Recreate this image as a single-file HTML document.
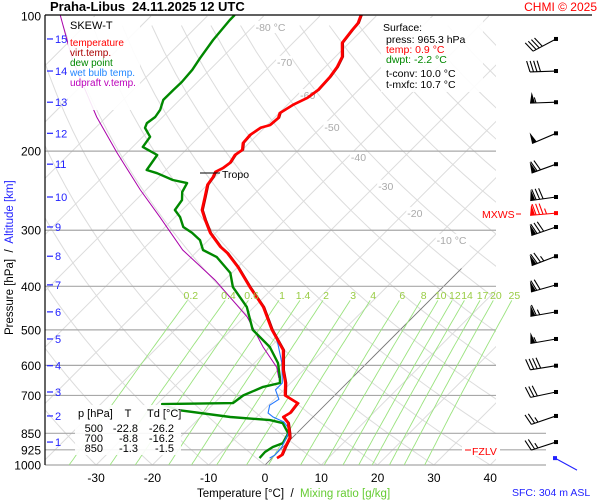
<!DOCTYPE html>
<html><head><meta charset="utf-8">
<style>
html,body{margin:0;padding:0;background:#fff;}
svg{display:block;font-family:"Liberation Sans",sans-serif;}
</style></head>
<body>
<svg id="chart" width="600" height="500" viewBox="0 0 600 500" xmlns="http://www.w3.org/2000/svg">
<defs><clipPath id="plotclip"><rect x="45" y="15" width="451" height="450"/></clipPath>
<clipPath id="plotclip2"><rect x="45" y="15" width="501" height="450"/></clipPath></defs>
<rect x="0" y="0" width="600" height="500" fill="#fff"/>
<g id="grid" clip-path="url(#plotclip)"></g>
<g id="isobars"></g>
<g id="mixlines" clip-path="url(#plotclip2)"></g>
<g id="series" clip-path="url(#plotclip2)"></g>
<g id="winds"></g>
<g id="axes"></g>
<text x="50" y="11" font-size="13" font-weight="bold" fill="#000">Praha-Libus</text>
<text x="132" y="11" font-size="13" font-weight="bold" fill="#000">24.11.2025 12 UTC</text>
<text x="597" y="11" font-size="12" fill="#f00" text-anchor="end">CHMI © 2025</text>
<line x1="45" y1="15" x2="592" y2="15" stroke="#000" stroke-width="1.2"/>
<g>
<rect x="68" y="17" width="72" height="93" fill="#fff" opacity="0.9"/>
<text x="70" y="29" font-size="11" fill="#000">SKEW-T</text>
<text x="70" y="46" font-size="10" fill="#f00">temperature</text>
<text x="70" y="56" font-size="10" fill="#a00">virt.temp.</text>
<text x="70" y="66" font-size="10" fill="#080">dew point</text>
<text x="70" y="76" font-size="10" fill="#28f">wet bulb temp.</text>
<text x="70" y="86" font-size="10" fill="#b0b">udpraft v.temp.</text>
</g>
<g>
<rect x="381" y="18" width="102" height="74" fill="#fff" opacity="0.9"/>
<text x="383" y="31" font-size="10.5" fill="#000">Surface:</text>
<text x="386" y="43" font-size="10.5" fill="#000">press: 965.3 hPa</text>
<text x="386" y="53" font-size="10.5" fill="#f00">temp: 0.9 °C</text>
<text x="386" y="63" font-size="10.5" fill="#080">dwpt: -2.2 °C</text>
<text x="386" y="77" font-size="10.5" fill="#000">t-conv: 10.0 °C</text>
<text x="386" y="88" font-size="10.5" fill="#000">t-mxfc: 10.7 °C</text>
</g>
<g font-size="11" fill="#000">
<rect x="75" y="405" width="106" height="50" fill="#fff" opacity="0.9"/>
<text x="78" y="417">p [hPa]</text><text x="128" y="417" text-anchor="middle">T</text><text x="147" y="417">Td [°C]</text>
<text x="103" y="432" text-anchor="end">500</text><text x="138" y="432" text-anchor="end">-22.8</text><text x="174" y="432" text-anchor="end">-26.2</text>
<text x="103" y="442" text-anchor="end">700</text><text x="138" y="442" text-anchor="end">-8.8</text><text x="174" y="442" text-anchor="end">-16.2</text>
<text x="103" y="452" text-anchor="end">850</text><text x="138" y="452" text-anchor="end">-1.3</text><text x="174" y="452" text-anchor="end">-1.5</text>
</g>
<g>
<line x1="200" y1="173" x2="220" y2="173" stroke="#000" stroke-width="1"/>
<text x="222" y="178" font-size="10.5" fill="#000">Tropo</text>
</g>
<g>
<rect x="462" y="444" width="38" height="12" fill="#fff"/>
<line x1="465" y1="450" x2="471" y2="450" stroke="#f00"/>
<text x="472" y="455" font-size="10.5" fill="#f00">FZLV</text>
</g>
<g>
<text x="482" y="218" font-size="10.5" fill="#f00">MXWS</text>
<line x1="516" y1="214" x2="521" y2="214" stroke="#f00"/>
</g>
<text x="197" y="497" font-size="11.5" fill="#000" xml:space="preserve">Temperature [°C]  /  <tspan fill="#6c3">Mixing ratio [g/kg]</tspan></text>
<text x="512" y="496" font-size="10.5" fill="#22f">SFC: 304 m ASL</text>
<text transform="translate(13,335) rotate(-90)" font-size="11.5" fill="#000" xml:space="preserve">Pressure [hPa]  /  <tspan fill="#22f">Altitude [km]</tspan></text>
</svg>
<script>
// ---- data ----
const tempP = [99.5,103.7,107.5,114.8,123.3,130,136.8,146.2,152.2,157.7,164.5,168.7,175,177.4,184,191.9,198.8,204,212.3,218.2,222.4,228.4,237.6,253,270.4,284.4,304,326.6,337,362.2,401.5,444.6,500,554.6,614,656,700,728,765.8,781.6,805.5,850,870.9,912,950,965.3];
const tempT = [-62.9,-62.0,-61.8,-61.3,-58.8,-57.9,-57.4,-57.2,-57.7,-59.0,-59.9,-59.3,-59.5,-60.7,-61.3,-61.1,-60.0,-60.4,-59.9,-60.2,-60.9,-60.4,-60.0,-58.3,-56.5,-54.2,-51.0,-46.7,-44.4,-40.0,-34.3,-28.4,-22.8,-17.2,-13.7,-11.0,-8.8,-5.2,-4.8,-5.3,-3.4,-1.3,-0.4,0.4,1.2,0.9];
const dewP = [99.5,102.1,113.1,124.1,131.8,140.3,146.2,153.8,161.8,167.9,173.2,177.5,185.8,195.7,204,220.3,223.9,231.9,235.6,246.6,257,270.4,280.5,295,304,315.5,332,344.3,373.3,401.5,444.6,500,546,592.9,636.8,656.6,670,700,728,731.6,754.5,781.6,794.3,806.5,850,893.6,912,935.6,965.3];
const dewT = [-85.3,-85.3,-84.7,-83.8,-83.1,-82.8,-82.9,-82.9,-81.7,-81.3,-81.7,-81.2,-78.7,-78.2,-74.2,-73.4,-71.0,-67.0,-63.9,-63.2,-61.8,-61.3,-59.1,-56.8,-54.2,-51.5,-49.2,-45.5,-40.3,-37.3,-31.3,-26.2,-20.1,-15.8,-13.0,-11.9,-14.2,-16.2,-16.7,-29.1,-25.2,-14.7,-7.1,-4.3,-1.5,-0.7,-1.8,-2.3,-2.2];
const wetP = [394,435,476,535,592.9,656.6,680,714,735.8,765.8,781.6,801.6,835.5,912,950,965.3];
const wetT = [-35.3,-29.7,-24.9,-19.4,-15.1,-11.5,-11.5,-9.2,-9.8,-8.7,-7.1,-4.3,-1.8,-0.2,0.0,-0.4];
const parcelP = [99.5,125.1,167.9,201.8,244,280.5,332,387.5,467.7,546,605.6,640];
const parcelT = [-116.3,-106.2,-91.7,-81.7,-71.0,-62.7,-52.8,-41.7,-29.5,-21.3,-15.3,-13.0];
const mixRatios = [0.2,0.4,0.6,1,1.4,2,3,4,6,8,10,12,14,17,20,25];
const mixLabels = ["0.2","0.4","0.6","1","1.4","2","3","4","6","8","10","12","14","17","20","25"];
const pressureTicks = [100,200,300,400,500,600,700,850,925,1000];
const tempTicks = [-30,-20,-10,0,10,20,30,40];
const isothermLabels = [-80,-70,-60,-50,-40,-30,-20,-10];
const isothermLabelP = [105.8,126.5,150,176.8,206,239,274.8,315.5];
const kmLabels = [1,2,3,4,5,6,7,8,9,10,11,12,13,14,15];
const kmP = [889,777.6,687.7,601,524,456,397,342.8,295,253,213.8,182.5,155.6,132.6,112.5];
const windP = [112.5,132.6,155.6,182.5,213.8,253,274.8,295.1,342.8,397,456,524,601,687.7,777.6,889];
const windDir = [242,268,268,247,250,262,265,251,249,254,260,260,261,258,251,252];
const windSpd = [40,40,55,50,70,80,85,80,75,70,65,55,40,30,25,25];

// ---- axes ----
const NS='http://www.w3.org/2000/svg';
const SKEW=1.0, X0=265, XS=5.63, YB=465, YH=449;
function yOf(p){return YB - YH*Math.log10(1000/p);}
function xOf(T,p){return X0 + XS*T + SKEW*(YB - yOf(p));}
function mk(tag,attrs,parent){const e=document.createElementNS(NS,tag);for(const k in attrs)e.setAttribute(k,attrs[k]);parent.appendChild(e);return e;}
function poly(Ts,Ps){return Ts.map((t,i)=>xOf(t,Ps[i]).toFixed(1)+','+yOf(Ps[i]).toFixed(1)).join(' ');}

const grid=document.getElementById('grid');
for(let T=-160;T<=50;T+=10){
  const l=mk('line',{x1:xOf(T,1000),y1:yOf(1000),x2:xOf(T,100),y2:yOf(100),stroke:'#dcdcdc','stroke-width':1},grid);
  
  
}
for(let th=-40;th<=200;th+=10){
  const pts=[];
  for(let p=1050;p>=95;p-=15){const T=(th+273.15)*Math.pow(p/1000,0.2857)-273.15;pts.push(xOf(T,p).toFixed(1)+','+yOf(p).toFixed(1));}
  const l=mk('polyline',{points:pts.join(' '),fill:'none',stroke:'#dcdcdc','stroke-width':1},grid);
  
  
}
{const l=mk('line',{x1:xOf(0,1000),y1:yOf(1000),x2:xOf(0,365),y2:yOf(365),stroke:'#777','stroke-width':0.8},grid);

}
isothermLabels.forEach((T,i)=>{
  const bg=mk('rect',{x:xOf(T,isothermLabelP[i])+2,y:yOf(isothermLabelP[i])-6,width:(i===0||i===7)?34:16,height:12,fill:'#fff'},grid);
  
  
  const t=mk('text',{x:xOf(T,isothermLabelP[i])+3,y:yOf(isothermLabelP[i])+4,'font-size':10.5,fill:'#aaa'},grid);
  t.textContent=(i===0||i===7)?T+' °C':String(T);
  
  
});

const iso=document.getElementById('isobars');
const axes=document.getElementById('axes');
pressureTicks.forEach(p=>{
  const y=yOf(p);
  if(p!==100){
    const l=mk('line',{x1:45,y1:y,x2:(p>=850?546:496),y2:y,stroke:'#a8a8a8','stroke-width':1.2},iso);
    
    
  }
  const t=mk('text',{x:41,y:y+4.5,'font-size':12,fill:'#000','text-anchor':'end'},axes);
  t.textContent=String(p);
  
  
});
{const l=mk('line',{x1:45,y1:15,x2:45,y2:465,stroke:'#000','stroke-width':1.2},axes);

}
tempTicks.forEach(T=>{
  const t=mk('text',{x:xOf(T,1000),y:482,'font-size':12,fill:'#000','text-anchor':'middle'},axes);
  t.textContent=String(T);
  
  
});
kmLabels.forEach((k,i)=>{
  const y=yOf(kmP[i]);
  const l=mk('line',{x1:47,y1:y,x2:53,y2:y,stroke:'#22f','stroke-width':1.2},axes);
  
  
  const t=mk('text',{x:55,y:y+4,'font-size':11,fill:'#22f'},axes);
  t.textContent=String(k);
  
  
});

const mix=document.getElementById('mixlines');
function tdFromW(w,p){const e=w*p/(622+w);const a=Math.log(e/6.112);return 243.5*a/(17.67-a);}
mixRatios.forEach((w,i)=>{
  const pts=[];
  for(let p=1000;p>=430;p-=10){pts.push(xOf(tdFromW(w,p),p).toFixed(1)+','+yOf(p).toFixed(1));}
  const l=mk('polyline',{points:pts.join(' '),fill:'none',stroke:'#9be37f','stroke-width':0.9},mix);
  
  
  const t=mk('text',{x:xOf(tdFromW(w,420),420),y:yOf(420)+3,'font-size':10.5,fill:'#9c4','text-anchor':'middle'},axes);
  t.textContent=mixLabels[i];
  
  
});

const ser=document.getElementById('series');
{const l=mk('polyline',{points:poly(parcelT,parcelP),fill:'none',stroke:'#a0a','stroke-width':1},ser);

}
{const l=mk('polyline',{points:poly(dewT,dewP),fill:'none',stroke:'#080','stroke-width':2.4,'stroke-linejoin':'round'},ser);

}
{const l=mk('polyline',{points:poly(wetT,wetP),fill:'none',stroke:'#27f','stroke-width':1.1},ser);

}
{const l=mk('polyline',{points:poly(tempT,tempP),fill:'none',stroke:'#a00','stroke-width':1,'transform':'translate(1.5,0)'},ser);

}
{const l=mk('polyline',{points:poly(tempT,tempP),fill:'none',stroke:'#f00','stroke-width':2.6,'stroke-linejoin':'round'},ser);

}

const wg=document.getElementById('winds');
function barb(p,dir,spd,color){
  const g=mk('g',{},wg);
  const x0=556,y0=yOf(p),L=26,rad=dir*Math.PI/180;
  const ux=Math.sin(rad),uy=-Math.cos(rad);
  const tx=x0+ux*L,ty=y0+uy*L;
  mk('line',{x1:x0,y1:y0,x2:tx,y2:ty,stroke:color,'stroke-width':1.1},g);
  mk('rect',{x:x0-2,y:y0-2,width:4,height:4,fill:color},g);
  let px=-uy,py=ux; if(py>0){px=-px;py=-py;}
  let s=Math.round(spd/5)*5,pos=0;const step=3.5,BL=11;
  while(s>=50){
    const ax=tx-ux*pos,ay=ty-uy*pos,bx=tx-ux*(pos+5),by=ty-uy*(pos+5);
    mk('polygon',{points:`${ax},${ay} ${ax+px*BL-ux*2},${ay+py*BL-uy*2} ${bx},${by}`,fill:color},g);
    pos+=6;s-=50;
  }
  while(s>=10){
    const ax=tx-ux*pos,ay=ty-uy*pos;
    mk('line',{x1:ax,y1:ay,x2:ax+px*BL+ux*3,y2:ay+py*BL+uy*3,stroke:color,'stroke-width':1.1},g);
    pos+=step;s-=10;
  }
  if(s>=5){
    if(pos===0)pos=step;
    const ax=tx-ux*pos,ay=ty-uy*pos;
    mk('line',{x1:ax,y1:ay,x2:ax+px*BL/2+ux*1.5,y2:ay+py*BL/2+uy*1.5,stroke:color,'stroke-width':1.1},g);
  }
  return g;
}
windP.forEach((p,i)=>{
  const g=barb(p,windDir[i],windSpd[i],i===6?'#f00':'#000');
  
  
});
{const g=mk('g',{},wg);
mk('line',{x1:555,y1:yOf(965.3),x2:577,y2:yOf(965.3)+12,stroke:'#22f','stroke-width':1.1},g);
mk('rect',{x:553,y:yOf(965.3)-2,width:4,height:4,fill:'#22f'},g);

}
</script>
</body></html>
